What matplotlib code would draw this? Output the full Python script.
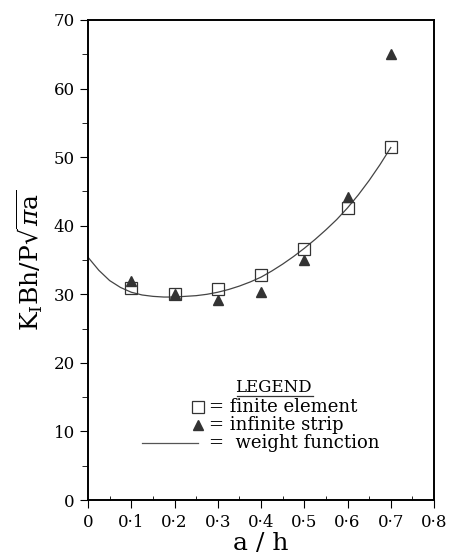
import numpy as np
import matplotlib
matplotlib.use("Agg")
import matplotlib.pyplot as plt
from matplotlib.ticker import MultipleLocator, FuncFormatter

plt.rcParams['font.family'] = ['DejaVu Serif']
plt.rcParams['mathtext.fontset'] = 'dejavuserif'

# data
a_h = [0.1, 0.2, 0.3, 0.4, 0.5, 0.6, 0.7]
finite_element = [30.9, 30.1, 30.7, 32.8, 36.6, 42.6, 51.5]
infinite_strip = [32.0, 30.0, 29.2, 30.4, 35.0, 44.2, 65.0]

wf_x = [0.0, 0.025, 0.05, 0.075, 0.1, 0.125, 0.15, 0.175, 0.2, 0.225, 0.25, 0.275, 0.3,
        0.325, 0.35, 0.375, 0.4, 0.425, 0.45, 0.475, 0.5, 0.525, 0.55, 0.575, 0.6,
        0.625, 0.65, 0.675, 0.7]
wf_y = [35.4, 33.5, 32.0, 31.0, 30.3, 29.9, 29.7, 29.6, 29.6, 29.7, 29.8, 30.0, 30.3,
        30.7, 31.2, 31.8, 32.5, 33.4, 34.4, 35.5, 36.7, 38.0, 39.4, 40.9, 42.6,
        44.5, 46.6, 48.9, 51.4]

fig = plt.figure(figsize=(4.5, 5.57), dpi=100)
ax = fig.add_axes([0.1956, 0.1023, 0.7689, 0.8618])

ax.plot(wf_x, wf_y, color='#444444', lw=0.9)
ax.plot(a_h, infinite_strip, linestyle='none', marker='^', color='#333333', ms=7)
ax.plot(a_h, finite_element, linestyle='none', marker='s', mfc='none', mec='#333333',
        mew=0.9, ms=9)

ax.set_xlim(0, 0.8)
ax.set_ylim(0, 70)
ax.xaxis.set_major_locator(MultipleLocator(0.1))
ax.xaxis.set_minor_locator(MultipleLocator(0.05))
ax.yaxis.set_major_locator(MultipleLocator(10))
ax.yaxis.set_minor_locator(MultipleLocator(5))
ax.xaxis.set_major_formatter(FuncFormatter(
    lambda v, p: '0' if abs(v) < 1e-9 else ('%.1f' % v).replace('.', '\u00b7')))
ax.tick_params(axis='x', which='major', direction='out', length=6, labelsize=12, pad=4)
ax.tick_params(axis='x', which='minor', direction='in', length=3)
ax.tick_params(axis='y', which='major', direction='out', length=6, labelsize=12)
ax.tick_params(axis='y', which='minor', direction='out', length=4)
for s in ax.spines.values():
    s.set_linewidth(1.4)

ax.set_xlabel('a / h', fontsize=18, labelpad=1)
ax.set_ylabel(r'$\mathrm{K_IBh/P}\sqrt{\pi\mathrm{a}}$', fontsize=18, labelpad=6)

# legend drawn as text, as in the original
tr = ax.transAxes
fs = 13
ax.text(0.536, 0.234, 'LEGEND', transform=tr, fontsize=12, ha='center', va='center')
ax.plot([0.43, 0.65], [0.217, 0.217], transform=tr, color='#333333', lw=0.9)
ax.plot([0.318], [0.194], transform=tr, marker='s', mfc='none', mec='#333333', ms=8, mew=0.9)
ax.plot([0.318], [0.157], transform=tr, marker='^', color='#333333', ms=7)
ax.plot([0.156, 0.318], [0.119, 0.119], transform=tr, color='#555555', lw=0.9)
ax.text(0.35, 0.194, '= finite element', transform=tr, fontsize=fs, va='center')
ax.text(0.35, 0.157, '= infinite strip', transform=tr, fontsize=fs, va='center')
ax.text(0.35, 0.119, '=  weight function', transform=tr, fontsize=fs, va='center')

fig.savefig('out.png', dpi=100)
